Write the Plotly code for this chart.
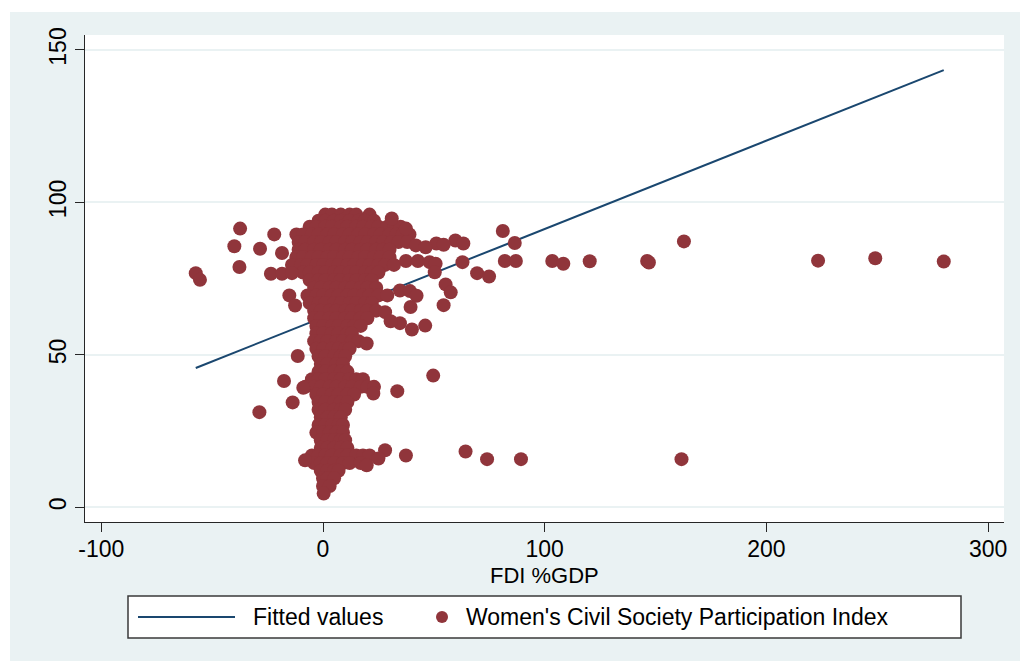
import plotly.graph_objects as go

# FDI inflows (% of GDP) vs Women's Civil Society Participation Index.
# The dense core of the cloud is listed row by row: (index level, FDI values).
cluster_rows = [
    (96.0, [1, 4, 8, 12, 15, 21]),
    (94.0, [-2, 1, 5, 8, 12, 16, 19, 23]),
    (92.0, [-6, -3, 1, 4, 8, 11, 15, 18, 22, 25, 29, 32, 35]),
    (89.5, [-12, -9, -5, -2, 2, 5, 9, 12, 16, 19, 23, 26, 30, 33, 36, 39]),
    (87.0, [-11, -8, -4, -1, 3, 6, 10, 13, 17, 20, 24, 27, 31, 34, 38]),
    (84.5, [-11, -8, -4, -1, 3, 6, 10, 13, 17, 20, 24, 27, 30]),
    (82.0, [-12, -9, -5, -2, 2, 5, 9, 12, 16, 19, 23, 26, 30]),
    (79.5, [-14, -10, -7, -3, 0, 4, 7, 11, 14, 18, 21, 25, 28, 32]),
    (77.0, [-9, -6, -2, 1, 5, 8, 12, 15, 19, 22, 25]),
    (74.5, [-6, -2, 1, 5, 8, 12, 15, 19, 22]),
    (72.0, [-4, -1, 3, 6, 10, 13, 17, 20, 24]),
    (69.5, [-7, -3, 0, 4, 7, 11, 14, 18, 21, 25, 29]),
    (67.0, [-6, -2, 1, 5, 8, 12, 15, 19, 22]),
    (64.5, [-4, -1, 3, 6, 10, 13, 17, 20, 24]),
    (62.0, [-4, -1, 3, 6, 10, 13, 17, 20]),
    (59.5, [-3, 0, 4, 7, 11, 14, 17]),
    (57.0, [-3, 0, 4, 7, 11, 13]),
    (54.5, [-4, -1, 2, 6, 9, 13, 16]),
    (52.0, [-3, 0, 4, 7, 10, 12]),
    (49.5, [-2, 1, 5, 8, 10]),
    (47.0, [-1, 2, 6, 9]),
    (44.5, [-2, 1, 5, 8, 11]),
    (42.0, [-5, -2, 1, 5, 8, 12, 15, 18]),
    (39.5, [-8, -4, -1, 3, 6, 10, 13, 17, 20, 23]),
    (37.0, [-3, 0, 4, 7, 11, 14]),
    (34.5, [-2, 1, 5, 8, 11]),
    (32.0, [-2, 1, 5, 8, 10]),
    (29.5, [-1, 2, 5, 8]),
    (27.0, [-2, 1, 4, 7, 9]),
    (24.5, [-3, 0, 3, 6, 9]),
    (22.0, [-1, 2, 5, 8, 10]),
    (19.5, [-1, 2, 5, 8, 11]),
    (17.0, [-5, -2, 1, 4, 8, 11, 15, 18, 21]),
    (14.5, [-4, -1, 2, 5, 9, 12, 17]),
    (12.0, [-1, 2, 5, 7]),
    (9.5, [0, 2, 5]),
    (7.0, [0, 3]),
    (4.5, [0.3]),
]

# Scattered country-years away from the core
outlier_fdi = [
    -57.4, -55.5, -40.0, -37.4, -37.7, -28.4, -22.0, -18.5, -23.5, -18.5,
    -14.0, -15.2, -12.6, -11.4, -17.6, -13.7, -28.7, -8.1, -8.9,
    31.0, 37.4, 81.1, 59.7, 63.3, 51.1, 54.4, 41.9, 46.3, 86.5, 162.8,
    37.4, 42.8, 48.1, 50.8, 62.9, 82.0, 87.0, 103.4, 108.4, 120.3,
    146.2, 147.0, 223.3, 249.1, 280.0,
    50.4, 69.5, 74.9, 55.3, 57.6, 34.7, 39.2, 42.2, 39.5, 54.4,
    34.7, 40.1, 46.1, 49.7, 33.5, 22.7, 19.7, 28.0, 30.5,
    37.4, 64.3, 74.0, 89.3, 161.7, 28.0, 25.0, 19.7,
]
outlier_wcspi = [
    76.8, 74.6, 85.6, 91.4, 78.8, 84.8, 89.5, 83.4, 76.6, 76.6,
    76.8, 69.5, 66.2, 49.6, 41.4, 34.4, 31.2, 15.4, 39.2,
    94.7, 91.4, 90.6, 87.5, 86.5, 86.5, 86.1, 85.9, 85.3, 86.7, 87.2,
    80.8, 80.8, 80.4, 79.9, 80.4, 80.8, 80.8, 80.8, 79.9, 80.7,
    80.8, 80.3, 80.9, 81.7, 80.6,
    77.1, 76.8, 75.7, 73.1, 70.5, 71.1, 70.9, 69.4, 65.7, 66.3,
    60.4, 58.3, 59.6, 43.2, 38.1, 37.3, 53.7, 64.0, 61.0,
    17.0, 18.3, 15.8, 15.8, 15.8, 18.7, 16.0, 13.8,
]

# Linear fit (endpoints over the observed FDI range)
fit_x = [-57.4, 280.0]
fit_y = [45.7, 143.4]

x_ticks = [-100, 0, 100, 200, 300]
x_tick_labels = ["-100", "0", "100", "200", "300"]
y_ticks = [0, 50, 100, 150]
y_tick_labels = ["0", "50", "100", "150"]

fdi = []
wcspi = []
for level, values in cluster_rows:
    fdi.extend(values)
    wcspi.extend([level] * len(values))
fdi.extend(outlier_fdi)
wcspi.extend(outlier_wcspi)

NAVY = "#1A476F"
MAROON = "#90353B"
GRAPH_BG = "#EAF2F3"
AXIS = "#262626"
FONT = "Liberation Sans, Arial, sans-serif"

W, H = 1020, 661
L, R, T, B = 85, 16, 35, 139
PW, PH = W - L - R, H - T - B


def px_x(p):
    return (p - L) / PW


def px_y(p):
    return (H - B - p) / PH


fig = go.Figure()
fig.add_trace(go.Scatter(
    x=fit_x, y=fit_y, mode="lines", name="Fitted values",
    line=dict(color=NAVY, width=2), showlegend=False, hoverinfo="skip",
))
fig.add_trace(go.Scatter(
    x=fdi, y=wcspi, mode="markers",
    name="Women's Civil Society Participation Index",
    marker=dict(color=MAROON, size=14, line=dict(width=0)),
    showlegend=False,
))

shapes = [
    # white strip along the top and left edge of the page
    dict(type="rect", xref="paper", yref="paper", layer="below",
         x0=px_x(0), x1=px_x(W), y0=px_y(0), y1=px_y(12),
         fillcolor="white", line=dict(width=0)),
    dict(type="rect", xref="paper", yref="paper", layer="below",
         x0=px_x(0), x1=px_x(10), y0=px_y(H), y1=px_y(0),
         fillcolor="white", line=dict(width=0)),
    # legend box
    dict(type="rect", xref="paper", yref="paper",
         x0=px_x(128), x1=px_x(961), y0=px_y(638), y1=px_y(596),
         fillcolor="white", line=dict(color="#3a3a3a", width=1.5)),
    dict(type="line", xref="paper", yref="paper",
         x0=px_x(138), x1=px_x(235), y0=px_y(617), y1=px_y(617),
         line=dict(color=NAVY, width=2)),
    dict(type="circle", xref="paper", yref="paper",
         x0=px_x(436), x1=px_x(448), y0=px_y(623), y1=px_y(611),
         fillcolor=MAROON, line=dict(width=0)),
]

annotations = [
    # x-axis title
    dict(text="FDI %GDP", xref="paper", yref="paper",
         x=0.5, y=px_y(575), xanchor="center", yanchor="middle",
         showarrow=False, font=dict(size=22, color="black", family=FONT)),
    # legend entries
    dict(text="Fitted values", xref="paper", yref="paper",
         x=px_x(251), y=px_y(617), xanchor="left", yanchor="middle",
         showarrow=False, font=dict(size=23, color="black", family=FONT)),
    dict(text="Women's Civil Society Participation Index", xref="paper", yref="paper",
         x=px_x(464), y=px_y(617), xanchor="left", yanchor="middle",
         showarrow=False, font=dict(size=23, color="black", family=FONT)),
]

fig.update_layout(
    width=W, height=H,
    margin=dict(l=L, r=R, t=T, b=B, pad=0),
    paper_bgcolor=GRAPH_BG,
    plot_bgcolor="white",
    font=dict(family=FONT, size=23, color="black"),
    showlegend=False,
    shapes=shapes,
    annotations=annotations,
    xaxis=dict(
        range=[-107.36, 307.17], tickvals=x_ticks, ticktext=x_tick_labels,
        showgrid=False, zeroline=False, showline=True, linecolor=AXIS, linewidth=1.3,
        ticks="outside", ticklen=9, tickwidth=1.3, tickcolor=AXIS,
        ticklabelstandoff=-3, automargin=False,
    ),
    yaxis=dict(
        range=[-4.82, 154.9], tickvals=y_ticks, ticktext=y_tick_labels,
        showgrid=True, gridcolor=GRAPH_BG, gridwidth=1.5,
        zeroline=False, showline=True, linecolor=AXIS, linewidth=1.3,
        ticks="outside", ticklen=9, tickwidth=1.3, tickcolor=AXIS,
        tickangle=-90, automargin=False,
    ),
)

fig.write_html("out.html")
